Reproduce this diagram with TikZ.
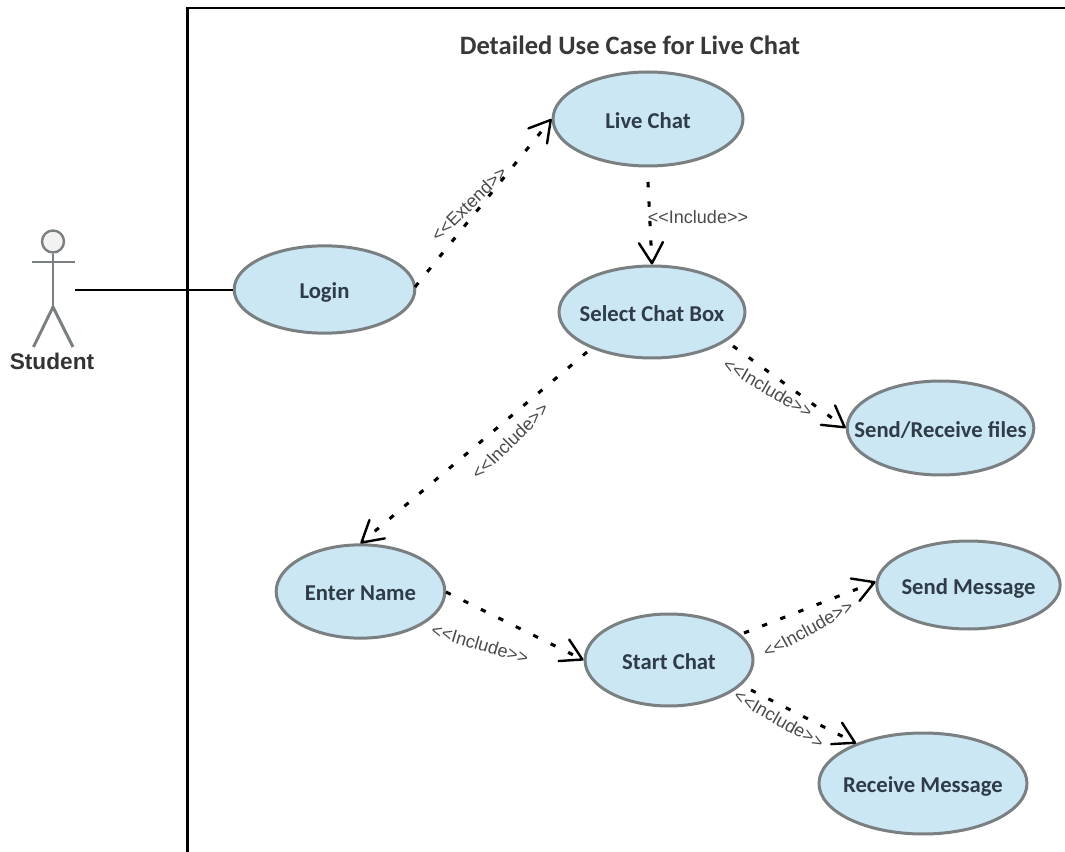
\documentclass[tikz,border=0pt]{standalone}
\usepackage{fontspec}
\setmainfont{Carlito}
\newfontfamily\arialf{Liberation Sans}
\usetikzlibrary{arrows.meta,shapes.geometric}
\definecolor{ucfill}{HTML}{CBE7F4}
\definecolor{ucedge}{HTML}{7A7F82}
\definecolor{uctext}{HTML}{2F3B47}
\definecolor{titletext}{HTML}{383838}
\definecolor{lbl}{HTML}{4A4A4A}
\tikzset{
  uc/.style={ellipse,draw=ucedge,fill=ucfill,line width=2.25pt,inner sep=-30pt,text=uctext,
    font=\fontsize{17}{20}\selectfont\bfseries,text height=14pt,text depth=0pt},
  dep/.style={line width=2.3pt,black,dash pattern=on 4pt off 10.6pt,
    -{Straight Barb[length=15.5pt,width=18pt,line width=1.8pt,round]}},
  lab/.style={text=lbl,font=\arialf\fontsize{13.5}{16}\selectfont,inner sep=0pt},
  frameline/.style={line width=2.2pt,black},
  assoc/.style={line width=2.2pt,black},
  actor/.style={line width=2.2pt,ucedge}
}
\begin{document}
\begin{tikzpicture}[x=0.75pt,y=-0.75pt]
\useasboundingbox (0,0) rectangle (1065,852);
\coordinate (fa) at (187.5,852);
\coordinate (fb) at (187.5,8);
\coordinate (fc) at (1065,8);
\draw[frameline,line join=miter] (fa) -- (fb) -- (fc);
\node[font=\fontsize{19.9}{24}\selectfont\bfseries,text=titletext,inner sep=0pt] (title) at (630,45) {Detailed Use Case for Live Chat};
% use cases
\node[uc,minimum width=142.5pt,minimum height=70.5pt] (live) at (648,119) {Live Chat};
\node[uc,minimum width=139.5pt,minimum height=69pt] (select) at (652,312) {Select Chat Box};
\node[uc,minimum width=135.5pt,minimum height=65.5pt] (login) at (324.5,289.5) {Login};
\node[uc,minimum width=140pt,minimum height=70.5pt] (files) at (940.5,428) {Send/Receive files};
\node[uc,minimum width=126.5pt,minimum height=70pt] (enter) at (360.5,591.5) {Enter Name};
\node[uc,minimum width=126pt,minimum height=69pt] (start) at (669,660) {Start Chat};
\node[uc,minimum width=137.5pt,minimum height=66pt] (sendm) at (968.5,585) {Send Message};
\node[uc,minimum width=156pt,minimum height=75.75pt] (recv) at (923,783.5) {Receive Message};
% actor
\node[circle,draw=ucedge,fill=black!5,line width=1.8pt,minimum size=16.5pt,inner sep=0pt] (head) at (53,241.5) {};
\coordinate (arml) at (32,262);
\coordinate (armr) at (75,262);
\coordinate (hip) at (53,307);
\coordinate (legl) at (33.5,347);
\coordinate (legr) at (73,347);
\draw[actor] (head.south) -- (hip);
\draw[actor] (arml) -- (armr);
\draw[actor] (legl) -- (hip) -- (legr);
\node[font=\arialf\bfseries\fontsize{17}{20}\selectfont,text=black!80,inner sep=0pt] (student) at (52,361) {Student};
% association
\coordinate (assocstart) at (75,290);
\draw[assoc] (assocstart) -- (login.west |- assocstart);
% dependencies
\coordinate (d1) at (415,287);
\draw[dep] (d1) -- (live.west);
\coordinate (d2) at (648,182);
\draw[dep] (d2) -- (select.north);
\coordinate (d3) at (587,352);
\draw[dep] (d3) -- (enter.north);
\coordinate (d4) at (733,346);
\draw[dep] (d4) -- (files.west);
\coordinate (d5) at (446,592);
\draw[dep] (d5) -- (start.west);
\coordinate (d6) at (744,633);
\draw[dep] (d6) -- (sendm.178);
\coordinate (d7) at (751,690);
\draw[dep] (d7) -- (recv.149);
% labels
\node[lab,rotate=44.6] (l1) at (469,203.5) {<{}<Extend>{}>};
\node[lab] (l2) at (698,217.5) {<{}<Include>{}>};
\node[lab,rotate=44.5] (l3) at (510,441) {<{}<Include>{}>};
\node[lab,rotate=-30.3] (l4) at (768,388) {<{}<Include>{}>};
\node[lab,rotate=-16.5] (l5) at (480,644) {<{}<Include>{}>};
\node[lab,rotate=29] (l6) at (808,629) {<{}<Include>{}>};
\node[lab,rotate=-29.5] (l7) at (779,719) {<{}<Include>{}>};
\end{tikzpicture}
\end{document}
